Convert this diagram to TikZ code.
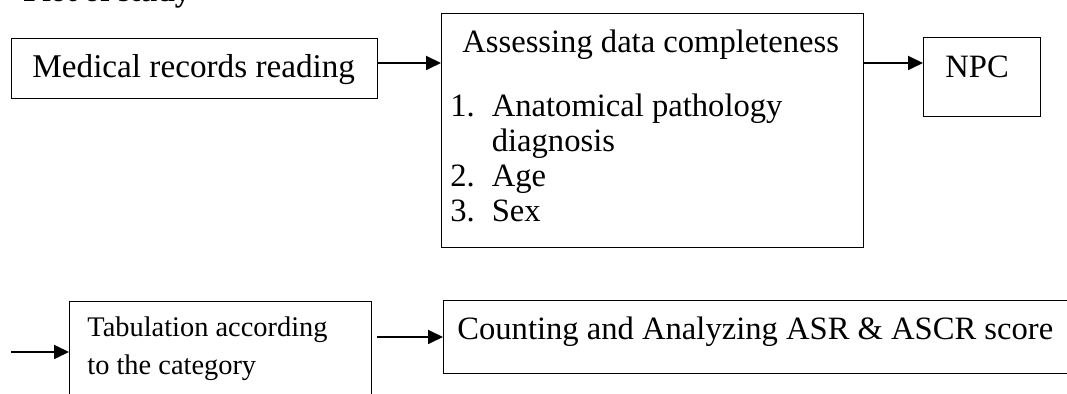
\documentclass[tikz,border=0pt]{standalone}
\usepackage{fontspec}
\setmainfont{Liberation Serif}
\usetikzlibrary{arrows.meta, positioning}

\begin{document}
\begin{tikzpicture}[
  x=0.5pt, y=-0.5pt,
  box/.style={draw, line width=0.6pt, anchor=north west, inner sep=0pt},
  txt/.style={anchor=base west, inner sep=0pt, font=\fontsize{16.3}{17.5}\selectfont},
  smalltxt/.style={anchor=base west, inner sep=0pt, font=\fontsize{14.2}{19}\selectfont},
  flow/.style={->, line width=0.9pt},
  >={Triangle[length=7.5pt, width=7pt]}
]
  \useasboundingbox (0,0) rectangle (1067,394);
  \clip (0,0) rectangle (1067,394);

  % heading, cut at the top edge
  \node[anchor=base west, inner sep=0pt, font=\fontsize{15.5}{17}\selectfont\bfseries] (title) at (23,2) {Plot of study};

  % first row
  \node[box, minimum width=183pt, minimum height=30pt] (records) at (11,38) {};
  \node[txt, font=\fontsize{16.6}{17.5}\selectfont] (recordstxt) at (32,78) {Medical records reading};
  \node[box, minimum width=211pt, minimum height=117pt] (assess) at (441,13) {};
  \node[txt] (assesstxt) at (462,53) {Assessing data completeness};
  \node[txt] (items) at (450,117) {%
    \begin{tabular}[t]{@{}l@{\hspace{8.5pt}}l@{}}
      1. & Anatomical pathology\\
         & diagnosis\\
      2. & Age\\
      3. & Sex
    \end{tabular}};
  \node[box, minimum width=58.5pt, minimum height=39.5pt] (npc) at (923,37) {};
  \node[txt] (npctxt) at (945,78) {NPC};

  % second row
  \node[box, minimum width=151pt, minimum height=70pt] (tab) at (69,301) {};
  \node[smalltxt] (tabtxt) at (87,337) {Tabulation according};
  \node[smalltxt] (tabtxt2) at (87,375) {to the category};
  \node[box, minimum width=330pt, minimum height=36.5pt] (count) at (443,300) {};
  \node[txt] (counttxt) at (457,340) {Counting and Analyzing ASR \& ASCR score};

  \coordinate (toprow) at (0,63);
  \coordinate (lowrow) at (0,337);
  \coordinate (start) at (11,352);

  % arrows
  \draw[flow] (records.east |- toprow) -- (assess.west |- toprow);
  \draw[flow] (assess.east |- toprow) -- (npc.west |- toprow);
  \draw[flow] (start) -- (start -| tab.west);
  \draw[flow] ([xshift=2.5pt]tab.east |- lowrow) -- (count.west |- lowrow);
\end{tikzpicture}
\end{document}
